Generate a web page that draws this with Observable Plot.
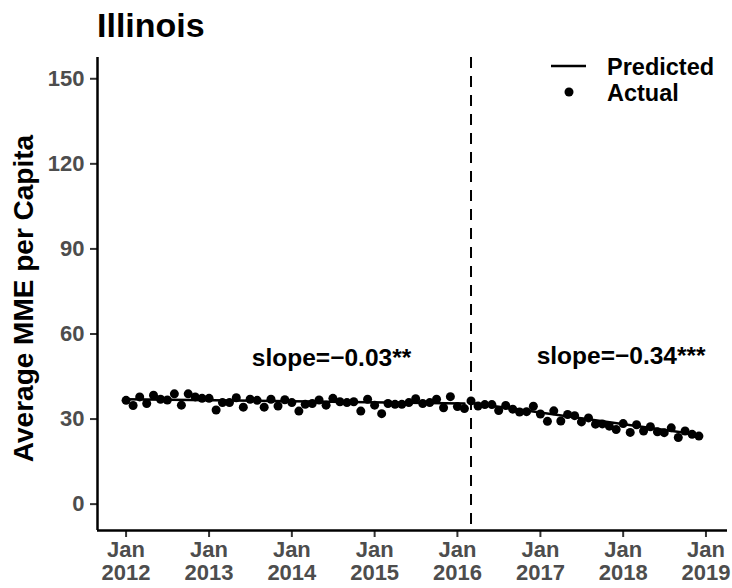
<!DOCTYPE html>
<html><head><meta charset="utf-8">
<script src="https://cdn.jsdelivr.net/npm/d3@7"></script>
<script src="https://cdn.jsdelivr.net/npm/@observablehq/plot@0.6"></script>
<style>
body{margin:0;background:#fff;}
#chart{width:732px;height:588px;}
</style></head>
<body><div id="chart"></div>
<script>
// Actual monthly values (Jan..Dec) per year
const years = [2012, 2013, 2014, 2015, 2016, 2017, 2018];
const actual2012 = [36.6, 34.8, 37.8, 35.5, 38.4, 37.0, 36.7, 38.9, 34.9, 38.9, 37.8, 37.3];
const actual2013 = [37.3, 33.2, 35.8, 35.8, 37.5, 34.2, 37.0, 36.6, 34.2, 37.0, 34.6, 36.8];
const actual2014 = [35.8, 32.8, 35.2, 35.5, 36.7, 34.9, 37.3, 36.1, 35.8, 36.1, 32.8, 37.0];
const actual2015 = [34.9, 31.9, 35.5, 35.2, 35.2, 35.8, 37.2, 35.5, 35.8, 37.0, 34.0, 37.9];
const actual2016 = [34.4, 33.7, 36.4, 34.6, 35.1, 35.1, 33.0, 34.8, 33.5, 32.5, 32.6, 34.5];
const actual2017 = [31.8, 29.2, 32.9, 29.3, 31.6, 31.2, 29.0, 30.4, 28.2, 28.3, 27.5, 26.3];
const actual2018 = [28.4, 25.3, 28.0, 25.8, 27.3, 25.5, 25.2, 26.9, 23.5, 25.8, 24.6, 24.0];
const actualByYear = [actual2012, actual2013, actual2014, actual2015, actual2016, actual2017, actual2018];

// Predicted segments (segmented regression)
const predPreDates = ["2012-01-01", "2016-02-01"];
const predPreValues = [37.0, 35.5];
const predPostDates = ["2016-03-01", "2018-12-01"];
const predPostValues = [35.7, 24.5];

const breakDate = ["2016-03-01"];

const yTicks = [0, 30, 60, 90, 120, 150];
const xTickYears = [2012, 2013, 2014, 2015, 2016, 2017, 2018, 2019];

const annotDates = ["2014-06-25", "2017-12-23"];
const annotValues = [51.3, 52.3];
const annotTexts = ["slope=\u22120.03**", "slope=\u22120.34***"];

// Build tables
const actual = [];
years.forEach((yr, i) => actualByYear[i].forEach((v, m) => actual.push({date: new Date(Date.UTC(yr, m, 1)), value: v})));
const pre = predPreDates.map((d, i) => ({date: new Date(d), value: predPreValues[i]}));
const post = predPostDates.map((d, i) => ({date: new Date(d), value: predPostValues[i]}));
const annots = annotDates.map((d, i) => ({date: new Date(d), value: annotValues[i], text: annotTexts[i]}));
const xTicks = xTickYears.map(y => new Date(Date.UTC(y, 0, 1)));
const xDomain = [new Date(Date.UTC(2011, 7, 28)), new Date(Date.UTC(2019, 3, 6))];
const yDomain = [-9.3, 157.5];

const font = '"Liberation Sans", Arial, Helvetica, sans-serif';

const svg = Plot.plot({
  width: 732, height: 588,
  marginLeft: 97, marginRight: 5, marginTop: 57, marginBottom: 58,
  style: {fontFamily: font, fontSize: "22px", fontWeight: "bold", background: "white", overflow: "visible"},
  x: {type: "utc", domain: xDomain},
  y: {domain: yDomain},
  marks: [
    Plot.axisY({ticks: yTicks, tickSize: 7, tickPadding: 6, fontSize: 22, fontWeight: "bold", fill: "#4d4d4d", stroke: "#333", strokeWidth: 2, label: null}),
    Plot.axisX({ticks: xTicks, tickFormat: d => `Jan\n${d.getUTCFullYear()}`, tickSize: 7, tickPadding: 3, fontSize: 22, fontWeight: "bold", fill: "#4d4d4d", stroke: "#333", strokeWidth: 2, label: null, lineHeight: 1.04}),
    Plot.ruleX([xDomain[0]], {stroke: "black", strokeWidth: 2.5}),
    Plot.ruleY([yDomain[0]], {stroke: "black", strokeWidth: 2.5}),
    Plot.ruleX(breakDate, {x: d => new Date(d), stroke: "black", strokeWidth: 2, strokeDasharray: "11,8"}),
    Plot.line(pre, {x: "date", y: "value", stroke: "black", strokeWidth: 2.5}),
    Plot.line(post, {x: "date", y: "value", stroke: "black", strokeWidth: 2.5}),
    Plot.dot(actual, {x: "date", y: "value", r: 4.5, fill: "black", stroke: "none"}),
    Plot.text(annots, {x: "date", y: "value", text: "text", fontSize: 24.5, fontWeight: "bold", fill: "black"})
  ]
});

const s = d3.select(svg);
s.append("text").attr("x", 97).attr("y", 37).attr("text-anchor", "start").attr("font-size", 34).attr("font-weight", "bold")
  .attr("font-family", font).attr("fill", "black").text("Illinois");
s.append("text").attr("transform", "translate(33,298.5) rotate(-90)").attr("text-anchor", "middle")
  .attr("font-size", 28).attr("font-weight", "bold").attr("font-family", font).attr("fill", "black")
  .text("Average MME per Capita");
const lg = s.append("g").attr("font-family", font).attr("font-size", 23.5).attr("font-weight", "bold").attr("text-anchor", "start");
lg.append("line").attr("x1", 551).attr("x2", 586).attr("y1", 66).attr("y2", 66).attr("stroke", "black").attr("stroke-width", 2.5);
lg.append("circle").attr("cx", 569).attr("cy", 92).attr("r", 4.5).attr("fill", "black");
lg.append("text").attr("x", 607).attr("y", 75).text("Predicted");
lg.append("text").attr("x", 607).attr("y", 101).text("Actual");

document.getElementById("chart").appendChild(svg);
</script>
</body></html>
